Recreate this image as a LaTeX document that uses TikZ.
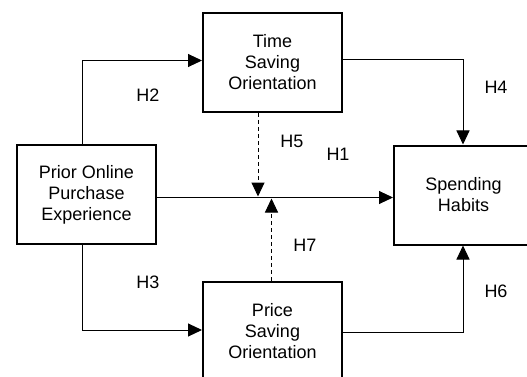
\documentclass[tikz,border=0pt]{standalone}
\usepackage{fontspec}
\setmainfont{Liberation Sans}
\usetikzlibrary{arrows.meta}
\begin{document}
\begin{tikzpicture}[x=1pt,y=-1pt,
  box/.style={draw=black,line width=2pt,fill=white,minimum width=139pt,minimum height=99pt,
    inner sep=0pt,align=center,font=\fontsize{18}{21}\selectfont},
  conn/.style={line width=1pt,-{Triangle[length=14pt,width=13pt]}},
  dconn/.style={conn,dash pattern=on 4pt off 3pt},
  lab/.style={font=\fontsize{18}{21}\selectfont,inner sep=0pt}]
\clip (0,0) rectangle (527,377);
\fill[white] (0,0) rectangle (527,377);
\node[box] (prior) at (86.5,194.5) {Prior Online\\Purchase\\Experience};
\node[box] (time) at (272.5,62.5) {Time\\Saving\\Orientation};
\node[box] (price) at (272.5,331) {Price\\Saving\\Orientation};
\node[box] (spend) at (463.5,195) {Spending\\Habits};
\coordinate (c5) at (258,196.5);
\coordinate (c7) at (271.5,198.5);
\draw[conn] (prior.east |- 0,197.5) -- (spend.west |- 0,197.5);
\draw[conn] (prior.north -| 82,0) |- (time.west |- 0,60.5);
\draw[conn] (prior.south -| 82,0) |- (price.west |- 0,330);
\draw[conn] (time.east |- 0,59.5) -| (spend.north -| 463,0);
\draw[conn] (price.east |- 0,332) -| (spend.south -| 463,0);
\draw[dconn] (time.south -| c5) -- (c5);
\draw[dconn] (price.north -| c7) -- (c7);
\node[lab] (h2) at (148,95) {H2};
\node[lab] (h3) at (148,282) {H3};
\node[lab] (h4) at (496,87) {H4};
\node[lab] (h6) at (496,291) {H6};
\node[lab] (h5) at (292,141) {H5};
\node[lab] (h1) at (338,154) {H1};
\node[lab] (h7) at (305,245) {H7};
\end{tikzpicture}
\end{document}
